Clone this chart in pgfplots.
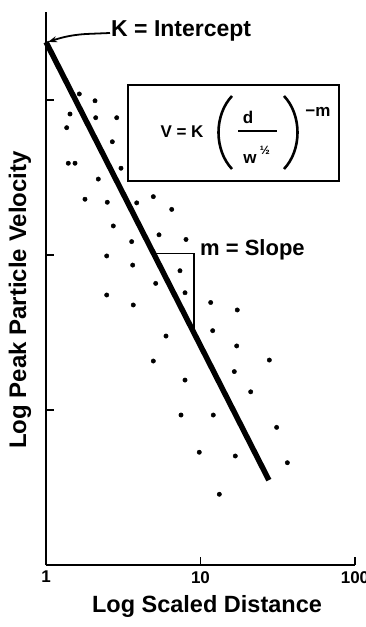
\documentclass[border=0pt]{standalone}
\usepackage{fontspec}
\setmainfont{Liberation Sans}
\usepackage{pgfplots}
\pgfplotsset{compat=1.18}
\usetikzlibrary{arrows.meta}
\pgfplotstableread{
x y
1.643 1094
2.076 989
1.430 812
2.098 769
2.869 769
1.361 663
2.687 538
1.394 391
1.541 391
3.058 363
2.180 309
1.788 229
2.493 219
3.865 217
4.950 238
6.511 197
2.727 154
5.389 135
8.057 126
3.586 122
2.471 98.6
3.640 86.1
7.366 79.2
5.129 65.6
7.939 57.1
2.471 55.2
3.673 47.6
11.64 49.4
17.30 44.2
5.98 30.0
11.99 32.5
17.15 25.9
4.95 20.7
27.9 21.0
16.55 17.7
7.94 15.6
21.13 13.1
7.48 9.28
12.10 9.28
31.1 7.73
9.82 5.34
16.80 5.05
36.5 4.57
13.24 2.86
}\dots
\begin{document}
\begin{tikzpicture}
\begin{axis}[
  scale only axis, width=309pt, height=553pt,
  xmode=log, ymode=log,
  xmin=1, xmax=100, ymin=1, ymax=3698,
  axis lines=left,
  axis line style={line width=2.2pt, -},
  xminorticks=false, yminorticks=false,
  xtick={1,10,100}, xticklabels={1,10,100},
  ytick={10,100,1000}, yticklabels={},
  tick align=inside,
  major tick length=8pt,
  tick style={line width=1.8pt, black},
  xticklabel style={font=\bfseries\fontsize{17}{17}\selectfont, anchor=north, inner sep=6pt},
  /pgf/number format/assume math mode=true,
  clip=false,
]
\coordinate (bl) at (rel axis cs:0,0);
\addplot[only marks, mark=*, mark size=2.2pt, black] table[x=x, y=y] {\dots};
\addplot[line width=5.5pt, black] coordinates {(1,2366) (27.7,3.53)};
\addplot[line width=1.3pt, black] coordinates {(5.077,102.6) (9.08,102.6) (9.08,32.3)};
\end{axis}
\begin{scope}[shift={(bl)}, shift={(-46pt,565pt)}, x=1pt, y=-1pt]
  \node[font=\bfseries\fontsize{23.5}{23.5}\selectfont] at (207,606) {Log Scaled Distance};
  \node[rotate=90, font=\bfseries\fontsize{24}{24}\selectfont] at (20,300) {Log Peak Particle Velocity};
  \node[font=\bfseries\fontsize{23}{23}\selectfont, anchor=west, inner sep=1pt] at (110,31) {K = Intercept};
  \draw[line width=1.8pt, -{Stealth[length=9pt, width=6pt]}] (110,33) -- (86,34) .. controls (70,35) and (60,38) .. (48,42);
  \draw[line width=1.5pt] (128,85) rectangle (339,181);
  \node[font=\bfseries\fontsize{17}{17}\selectfont] at (182,132) {V = K};
  \draw[line width=2.6pt] (232,96) .. controls (214,115) and (214,150) .. (232,169);
  \draw[line width=2.6pt] (284,96) .. controls (302,115) and (302,150) .. (284,169);
  \node[font=\bfseries\fontsize{17}{17}\selectfont] at (248,117) {d};
  \draw[line width=1.2pt] (238,131) -- (277,131);
  \node[font=\bfseries\fontsize{17}{17}\selectfont] at (250,159) {w};
  \node[font=\bfseries\fontsize{12}{12}\selectfont] at (265,150) {½};
  \node[font=\bfseries\fontsize{17}{17}\selectfont] at (318,112) {−m};
  \node[font=\bfseries\fontsize{22}{22}\selectfont, anchor=west, inner sep=1pt] at (199,250) {m = Slope};
  \pgfresetboundingbox
  \useasboundingbox (0,0) rectangle (366,627);
\end{scope}
\end{tikzpicture}
\end{document}
